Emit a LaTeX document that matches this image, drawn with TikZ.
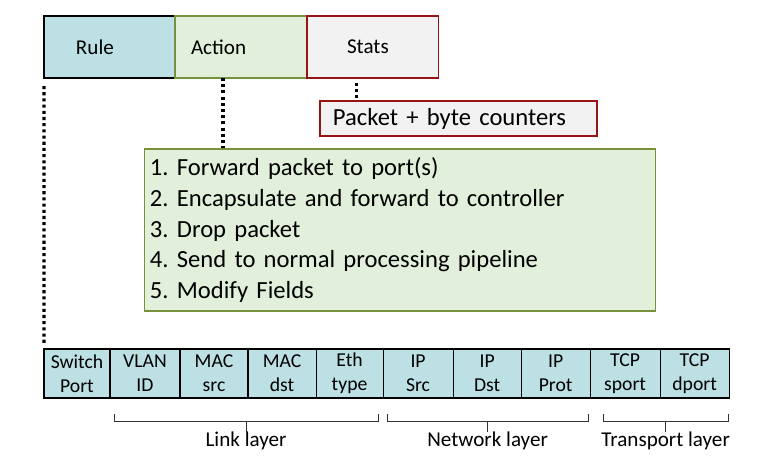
\documentclass[tikz,border=0pt]{standalone}
\usepackage{fontspec}
\setmainfont{Carlito}
\usetikzlibrary{calc, positioning}
\definecolor{ruleteal}{RGB}{188,224,228}
\definecolor{actgreen}{RGB}{226,239,218}
\definecolor{actborder}{RGB}{118,146,60}
\definecolor{statgray}{RGB}{242,242,242}
\definecolor{statborder}{RGB}{150,20,20}
\tikzset{
    field/.style={rectangle, draw=black, line width=0.8pt, fill=ruleteal, minimum height=1.225cm, inner sep=0pt, outer sep=0pt, align=center, font=\fontsize{14}{17}\selectfont},
    dotline/.style={line width=2.2pt, dash pattern=on 2.2pt off 2.2pt},
    bracket/.style={line width=0.6pt, black!80},
    layer/.style={inner sep=0pt, font=\fontsize{15}{17}\selectfont}
}
\newcommand{\actnum}[1]{\makebox[19.2pt][l]{#1}}

\begin{document}
\begin{tikzpicture}[x=0.025cm, y=-0.025cm,
		% Flow table entry boxes
		entry/.style={
			rectangle,
			line width=0.8pt,
			minimum height=1.55cm,
			inner ysep=0pt,
			outer sep=0pt,
			align=left,
			font=\fontsize{15}{17}\selectfont
		},
		rulebox/.style={entry, draw=black, fill=ruleteal, inner xsep=0.8cm, text width=1.675cm},
		actionbox/.style={entry, draw=actborder, fill=actgreen, inner xsep=0.4cm, text width=2.5cm},
		statsbox/.style={entry, draw=statborder, fill=statgray, inner xsep=1cm, text width=1.275cm},
		% Detail boxes
		counterbox/.style={
			rectangle,
			draw=statborder,
			fill=statgray,
			line width=0.8pt,
			minimum height=0.875cm,
			inner ysep=0pt,
			inner xsep=0.325cm,
			text width=6.275cm,
			align=left,
			font=\fontsize{17.5}{21}\selectfont
		},
		actionlist/.style={
			rectangle,
			draw=actborder,
			fill=actgreen,
			line width=0.8pt,
			minimum height=4.05cm,
			inner ysep=0pt,
			inner xsep=0.125cm,
			text width=12.5cm,
			align=left,
			font=\fontsize{17.5}{21.7}\selectfont
		}
		]
		\useasboundingbox (0,0) rectangle (778,460);
		
		% Rule / Action / Stats
		\node (rule) [rulebox] at (109.5,47) {Rule};
		\node (action) [actionbox, right=0pt of rule] {Action};
		\node (stats) [statsbox, right=0pt of action] {Stats};
		
		% Counters and action list
		\node (counters) [counterbox] at (458.5,118.5) {Packet + byte counters};
		\node (actions) [actionlist] at (400,230) {
			\actnum{1.}Forward packet to port(s)\\
			\actnum{2.}Encapsulate and forward to controller\\
			\actnum{3.}Drop packet\\
			\actnum{4.}Send to normal processing pipeline\\
			\actnum{5.}Modify Fields};
		
		% Header fields
		\node (switchport) [field, minimum width=1.65cm] at (77,373.5) {Switch\\Port};
		\node (vlanid) [field, minimum width=1.75cm, right=0pt of switchport] {VLAN\\ID};
		\node (macsrc) [field, minimum width=1.7cm, right=0pt of vlanid] {MAC\\src};
		\node (macdst) [field, minimum width=1.7cm, right=0pt of macsrc] {MAC\\dst};
		\node (ethtype) [field, minimum width=1.675cm, right=0pt of macdst] {Eth\\type};
		\node (ipsrc) [field, minimum width=1.75cm, right=0pt of ethtype] {IP\\Src};
		\node (ipdst) [field, minimum width=1.7cm, right=0pt of ipsrc] {IP\\Dst};
		\node (ipprot) [field, minimum width=1.725cm, right=0pt of ipdst] {IP\\Prot};
		\node (tcpsport) [field, minimum width=1.75cm, right=0pt of ipprot] {TCP\\sport};
		\node (tcpdport) [field, minimum width=1.725cm, right=0pt of tcpsport] {TCP\\dport};
		
		% Dotted links
		\draw [dotline, shorten <=0.2cm, shorten >=0.1cm] (rule.south west) -- (switchport.north west);
		\coordinate (actdrop) at ($(action.south west)+(48,0)$);
		\draw [dotline] (actdrop) -- (actdrop |- actions.north);
		\coordinate (statdrop) at ($(stats.south west)+(49,0)$);
		\draw [dotline, shorten <=0.12cm] (statdrop) -- (statdrop |- counters.north);
		
		% Layer brackets
		\coordinate (linkL) at ($(vlanid.south west)+(4,16)$);
		\coordinate (linkR) at ($(ethtype.south east)+(-5,16)$);
		\coordinate (linkM) at ($(linkL)!0.5!(linkR)+(0,7)$);
		\draw [bracket] (linkL) -- ++(0,7) -| (linkR);
		\node (linklabel) [layer] at ($(linkM)+(0,20)$) {Link layer};
		\draw [bracket] (linkM) -- (linklabel.north);
		
		\coordinate (netL) at ($(ipsrc.south west)+(4,16)$);
		\coordinate (netR) at ($(ipprot.south east)+(-2,16)$);
		\coordinate (netM) at ($(netL)!0.5!(netR)+(0,7)$);
		\draw [bracket] (netL) -- ++(0,7) -| (netR);
		\node (netlabel) [layer] at ($(netM)+(0,20)$) {Network layer};
		\draw [bracket] (netM) -- (netlabel.north);
		
		\coordinate (transL) at ($(tcpsport.south west)+(13,16)$);
		\coordinate (transR) at ($(tcpdport.south east)+(-1,16)$);
		\coordinate (transM) at ($(transL)!0.5!(transR)+(0,7)$);
		\draw [bracket] (transL) -- ++(0,7) -| (transR);
		\node (translabel) [layer] at ($(transM)+(0,20)$) {Transport layer};
		\draw [bracket] (transM) -- (translabel.north);
		
	\end{tikzpicture}
\end{document}
